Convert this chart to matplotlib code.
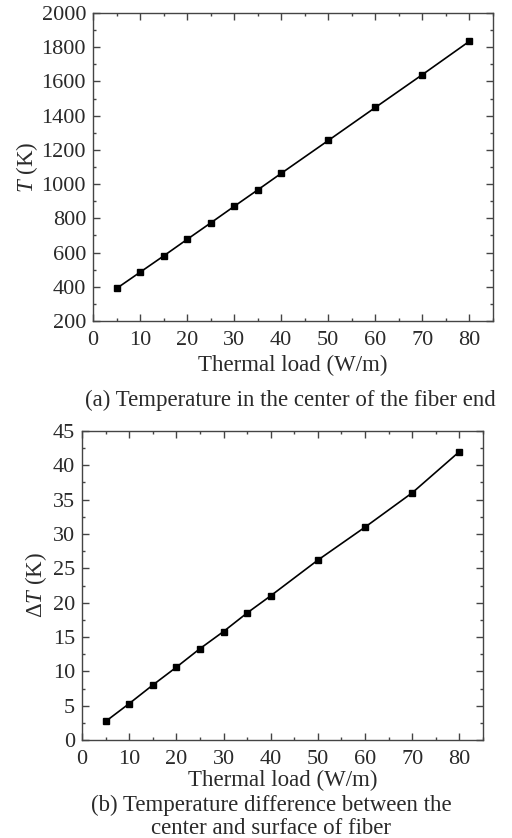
import matplotlib.pyplot as plt
from matplotlib.ticker import MultipleLocator

# thermal load (W/m)
load = [5, 10, 15, 20, 25, 30, 35, 40, 50, 60, 70, 80]
# center temperature (K)
temp_center = [390, 485, 580, 677, 773, 870, 966, 1063, 1255, 1448, 1640, 1835]
# center-surface temperature difference (K)
delta_t = [2.7, 5.3, 8.0, 10.6, 13.3, 15.8, 18.5, 21.0, 26.2, 31.0, 36.0, 42.0]

plt.rcParams['font.family'] = ['Liberation Serif', 'DejaVu Serif']
plt.rcParams['mathtext.fontset'] = 'custom'
plt.rcParams['mathtext.it'] = 'Liberation Serif:italic'
plt.rcParams['mathtext.rm'] = 'Liberation Serif'

fig = plt.figure(figsize=(5.12, 8.38), dpi=100)
W, H = 512, 838
TXT = '#2a2a2a'


def style_axes(ax, ymajor, yminor):
    ax.xaxis.set_major_locator(MultipleLocator(10))
    ax.xaxis.set_minor_locator(MultipleLocator(5))
    ax.yaxis.set_major_locator(MultipleLocator(ymajor))
    ax.yaxis.set_minor_locator(MultipleLocator(yminor))
    ax.tick_params(which='both', direction='in', top=True, right=True,
                   labelsize=16, color='#444444', labelcolor=TXT, width=1.0)
    ax.tick_params(which='major', length=5)
    ax.tick_params(which='minor', length=2.5)
    ax.tick_params(axis='x', pad=7)
    ax.tick_params(axis='y', pad=5)
    for s in ax.spines.values():
        s.set_color('#444444')
        s.set_linewidth(1.0)


# (a)
ax1 = fig.add_axes([93 / W, 1 - 321 / H, 400 / W, 308 / H])
ax1.plot(load, temp_center, '-s', color='black', lw=1.2, ms=4.5)
ax1.set_xlim(0, 85)
ax1.set_ylim(200, 2000)
style_axes(ax1, 200, 100)
ax1.set_xlabel('Thermal load (W/m)', fontsize=16.5, color=TXT, labelpad=4)
ax1.set_ylabel('$T$ (K)', fontsize=16.5, color=TXT, labelpad=1)
fig.text(290 / W, 1 - 400 / H, '(a) Temperature in the center of the fiber end',
         ha='center', va='center', fontsize=16.5, color=TXT)

# (b)
ax2 = fig.add_axes([82 / W, 1 - 740 / H, 401 / W, 309 / H])
ax2.plot(load, delta_t, '-s', color='black', lw=1.2, ms=4.5)
ax2.set_xlim(0, 85)
ax2.set_ylim(0, 45)
style_axes(ax2, 5, 2.5)
ax2.set_xlabel('Thermal load (W/m)', fontsize=16.5, color=TXT, labelpad=1)
ax2.set_ylabel(r'$\Delta T$ (K)', fontsize=16.5, color=TXT, labelpad=3)
fig.text(271 / W, 1 - 817 / H,
         '(b) Temperature difference between the\ncenter and surface of fiber',
         ha='center', va='center', fontsize=16.5, color=TXT,
         linespacing=1.1)

fig.savefig('out.png', dpi=100)
